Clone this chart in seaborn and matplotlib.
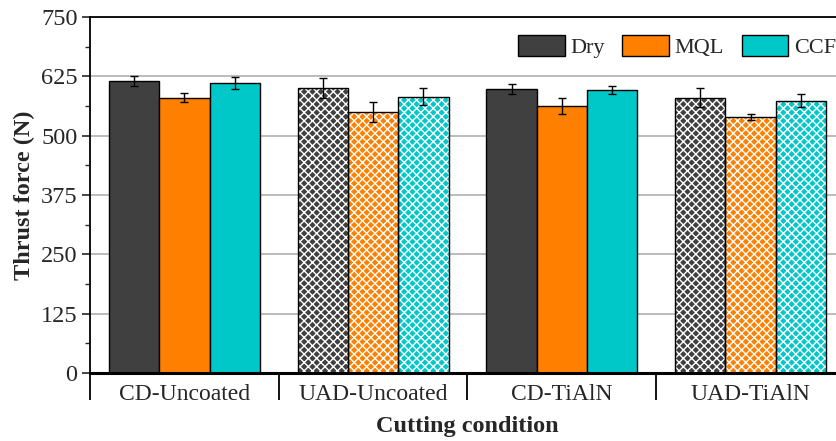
import numpy as np
import pandas as pd
import matplotlib
matplotlib.use("Agg")
import matplotlib.pyplot as plt
import seaborn as sns
from matplotlib.patches import Rectangle

# data
conditions = ["CD-Uncoated", "UAD-Uncoated", "CD-TiAlN", "UAD-TiAlN"]
media = ["Dry", "MQL", "CCF"]
dry = [615, 601, 598, 580]
mql = [580, 549, 562, 539]
ccf = [611, 582, 596, 574]
dry_err = [10, 21, 10, 20]
mql_err = [10, 21, 17, 6]
ccf_err = [13, 18, 9, 13]

colors = ["#404040", "#FF8000", "#00C8C8"]

rows = []
for m, vals, errs in zip(media, [dry, mql, ccf], [dry_err, mql_err, ccf_err]):
    for c, v, e in zip(conditions, vals, errs):
        rows.append({"Condition": c, "Medium": m, "Force": v, "Err": e})
data = pd.DataFrame(rows)

sns.set_style("white")
plt.rcParams["font.family"] = ["Liberation Serif", "DejaVu Serif"]
plt.rcParams["hatch.linewidth"] = 1.0

fig = plt.figure(figsize=(8.36, 4.41), dpi=100)
ax = fig.add_axes([0.1077, 0.1542, 0.903, 0.8073])

sns.barplot(
    data=data, x="Condition", y="Force", hue="Medium",
    order=conditions, hue_order=media, palette=colors, saturation=1,
    errorbar=None, width=0.8, edgecolor="black", linewidth=1.0,
    ax=ax, zorder=2
)

# error bars and hatching
for cont, m in zip(ax.containers, media):
    sub = data[data["Medium"] == m].set_index("Condition").loc[conditions]
    xs = [p.get_x() + p.get_width() / 2 for p in cont]
    ax.errorbar(xs, sub["Force"], yerr=sub["Err"], fmt="none",
                ecolor="black", elinewidth=1.0, capsize=3, capthick=1.0, zorder=4)
    for i, p in enumerate(cont):
        if conditions[i].startswith("UAD"):
            p.set_hatch("xxxx")
            p.set_edgecolor("white")
            p.set_linewidth(0)
            ax.add_patch(Rectangle(p.get_xy(), p.get_width(), p.get_height(),
                                   fill=False, edgecolor="black", linewidth=1.0, zorder=3))

ax.set_ylim(0, 750)
ax.set_xlim(-0.5, 3.5)
ax.set_yticks(np.arange(0, 751, 125))
ax.set_yticks(np.arange(62.5, 750, 125), minor=True)
ax.yaxis.grid(True, color="#b0b0b0", linewidth=1.2, zorder=0)
ax.set_axisbelow(True)

# group separators below the axis
ax.set_xticks([-0.5, 0.5, 1.5, 2.5, 3.5])
ax.set_xticklabels([])
ax.set_xticks(range(len(conditions)), minor=True)
ax.set_xticklabels(conditions, minor=True)
ax.tick_params(axis="x", which="major", direction="out", length=19.5, width=1.3, color="black", bottom=True)
ax.tick_params(axis="x", which="minor", length=0, pad=8, labelsize=17)
ax.tick_params(axis="y", which="major", direction="out", length=6, width=1.2, left=True, labelsize=17.5, pad=3)
ax.tick_params(axis="y", which="minor", direction="out", length=3.5, width=1.0, left=True)

for s in ["left", "top"]:
    ax.spines[s].set_color("black")
    ax.spines[s].set_linewidth(1.3)
ax.spines["bottom"].set_color("black")
ax.spines["bottom"].set_linewidth(2.2)
ax.spines["right"].set_visible(False)

ax.set_xlabel("Cutting condition", fontsize=17.5, fontweight="bold", labelpad=8)
ax.set_ylabel("Thrust force (N)", fontsize=17.5, fontweight="bold", labelpad=4)

ax.legend(loc="upper right", ncol=3, frameon=False, fontsize=16,
          handlelength=2.1, handleheight=1.1, columnspacing=0.8,
          handletextpad=0.25, bbox_to_anchor=(1.0, 0.975), borderaxespad=0)
for h in ax.get_legend().legend_handles:
    h.set_edgecolor("black")
    h.set_linewidth(1.0)

fig.savefig("out.png", dpi=100)
